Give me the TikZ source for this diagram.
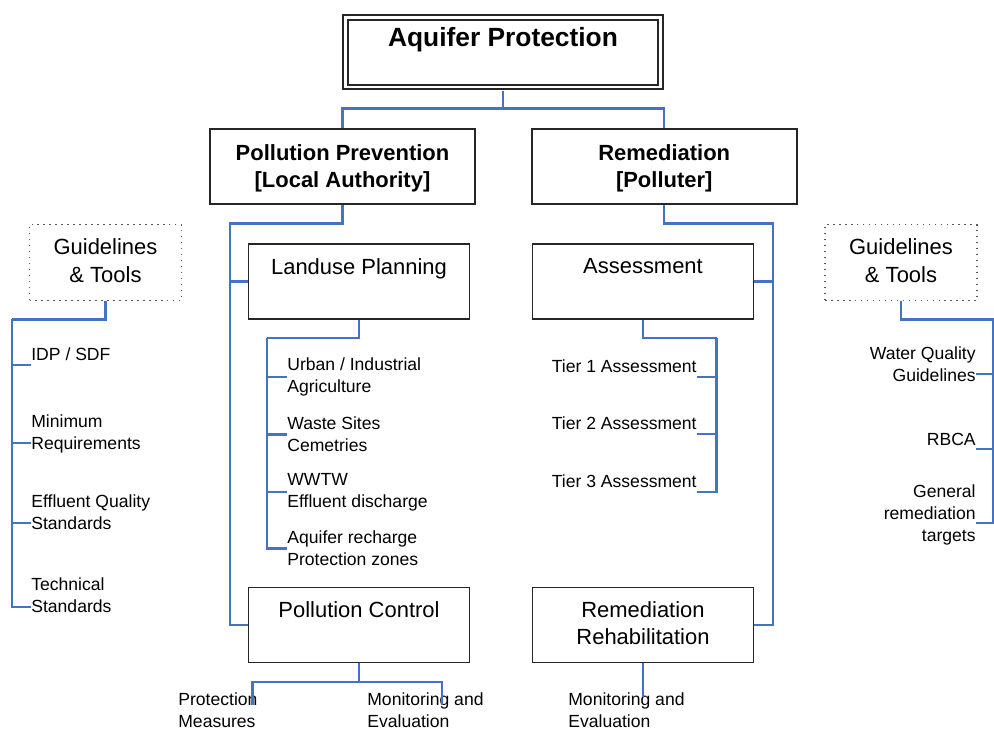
\documentclass[tikz,border=0pt]{standalone}
\usepackage{fontspec}
\setmainfont{Liberation Sans}
\usetikzlibrary{positioning}
\definecolor{linkblue}{HTML}{4472C4}
\tikzset{
  box/.style={draw=black!85, line width=1.1pt, minimum width=4.42cm,
    minimum height=1.5cm, inner sep=0pt},
  widebox/.style={box, minimum width=5.3cm},
  titlebox/.style={draw=black!85, double, double distance=1.5pt, line width=1pt,
    minimum width=6.3cm, minimum height=1.39cm, inner sep=0pt},
  toolbox/.style={draw=black!65, line width=0.9pt, dash pattern=on 0.9pt off 2.5pt,
    minimum width=3.04cm, minimum height=1.52cm, inner sep=0pt},
  titletext/.style={font=\fontsize{15}{18}\selectfont\bfseries, inner sep=0pt},
  headtext/.style={font=\fontsize{12.5}{15.7}\selectfont\bfseries, align=center, inner sep=0pt},
  boxtext/.style={font=\fontsize{12.5}{15.4}\selectfont, align=center, inner sep=0pt},
  itemtext/.style={font=\fontsize{10}{12.5}\selectfont, align=left, inner sep=0pt},
  tiertext/.style={itemtext, inner xsep=0pt, inner ysep=2.3pt},
  link/.style={draw=linkblue, line width=1.2pt}
}
\begin{document}
\begin{tikzpicture}[x=0.02cm, y=-0.02cm]
  \path[fill=white, use as bounding box] (0,0) rectangle (994,729);

  % boxes
  \node[titlebox] (top) at (503,52.3) {};
  \node[titletext, below=0.2cm of top.north] (top-t) {Aquifer Protection};
  \node[widebox] (pp) at (342.5,166.7) {};
  \node[headtext, below=0.31cm of pp.north] (pp-t) {Pollution Prevention\\{}[Local Authority]};
  \node[widebox] (rem) at (664.2,166.7) {};
  \node[headtext, below=0.31cm of rem.north] (rem-t) {Remediation\\{}[Polluter]};
  \node[box] (lp) at (359,281.5) {};
  \node[boxtext, below=0.3cm of lp.north] (lp-t) {Landuse Planning};
  \node[box] (as) at (643,281.5) {};
  \node[boxtext, below=0.3cm of as.north] (as-t) {Assessment};
  \node[box] (pc) at (359,625) {};
  \node[boxtext, below=0.3cm of pc.north] (pc-t) {Pollution Control};
  \node[box] (rr) at (643,625) {};
  \node[boxtext, below=0.3cm of rr.north] (rr-t) {Remediation\\Rehabilitation};
  \node[toolbox] (gl) at (105.5,262.5) {};
  \node[boxtext, below=0.3cm of gl.north] (gl-t) {Guidelines\\\& Tools};
  \node[toolbox] (gr) at (901,262.5) {};
  \node[boxtext, below=0.3cm of gr.north] (gr-t) {Guidelines\\\& Tools};

  % item labels
  \node[itemtext, anchor=north west] (idp) at (31,347.5) {IDP / SDF};
  \node[itemtext, anchor=north west] (minreq) at (31,414.5) {Minimum\\Requirements};
  \node[itemtext, anchor=north west] (effq) at (31,494) {Effluent Quality\\Standards};
  \node[itemtext, anchor=north west] (techs) at (31,577) {Technical\\Standards};

  \node[itemtext, anchor=west] (urban) at (287,377) {Urban / Industrial\\Agriculture};
  \node[itemtext, anchor=west] (waste) at (287,434.5) {Waste Sites\\Cemetries};
  \node[itemtext, anchor=west] (wwtw) at (287,492) {WWTW\\Effluent discharge};
  \node[itemtext, anchor=west] (recharge) at (287,548.5) {Aquifer recharge\\Protection zones};

  \node[tiertext, anchor=south east] (tier1) at (697,376.7) {Tier 1 Assessment};
  \node[tiertext, anchor=south east] (tier2) at (697,434.3) {Tier 2 Assessment};
  \node[tiertext, anchor=south east] (tier3) at (697,491.7) {Tier 3 Assessment};

  \node[itemtext, align=right, anchor=north east] (wqg) at (976,346.7) {Water Quality\\Guidelines};
  \node[itemtext, align=right, anchor=north east] (rbca) at (976,432.7) {RBCA};
  \node[itemtext, align=right, anchor=north east] (genrt) at (976,484.3) {General\\remediation\\targets};

  \node[itemtext, anchor=north west] (protm) at (178,692.7) {Protection\\Measures};
  \node[itemtext, anchor=north west] (monev) at (367,692.7) {Monitoring and\\Evaluation};
  \node[itemtext, anchor=north west] (monev2) at (568,692.7) {Monitoring and\\Evaluation};

  % connectors
  \coordinate (top-j) at (503,108.5);
  \draw[link, shorten <=2pt] (top.south) -- (top-j);
  \draw[link] (pp.north) |- (top-j) -| (rem.north);

  \coordinate (pp-j) at (230,223.5);
  \draw[link] (pp.south) |- (pp-j) |- (pc.west);
  \draw[link] (pp-j |- lp.west) -- (lp.west);
  \coordinate (rem-j) at (773,223.5);
  \draw[link] (rem.south) |- (rem-j) |- (rr.east);
  \draw[link] (rem-j |- as.east) -- (as.east);

  \coordinate (lp-j) at (267,338);
  \draw[link] (lp.south) |- (lp-j);
  \foreach \n in {urban,waste,wwtw,recharge}
    \draw[link] (\n.west) -| (lp-j);

  \coordinate (as-j) at (716.5,338);
  \draw[link] (as.south) |- (as-j);
  \foreach \n in {tier1,tier2,tier3}
    \draw[link] (\n.south east) -| (as-j);

  \coordinate (gl-j) at (12,319.5);
  \draw[link] (gl.south) |- (gl-j);
  \draw[link] ([yshift=-0.35cm]idp.north west) -| (gl-j);
  \draw[link] ([yshift=-0.57cm]minreq.north west) -| (gl-j);
  \draw[link] ([yshift=-0.58cm]effq.north west) -| (gl-j);
  \draw[link] ([yshift=-0.6cm]techs.north west) -| (gl-j);

  \coordinate (gr-j) at (993.5,319.5);
  \draw[link] (gr.south) |- (gr-j);
  \draw[link] ([yshift=-0.55cm]wqg.north east) -| (gr-j);
  \draw[link] ([yshift=-0.33cm]rbca.north east) -| (gr-j);
  \draw[link] ([yshift=-0.78cm]genrt.north east) -| (gr-j);

  \coordinate (pc-j) at (359,682);
  \coordinate (protm-end) at ([xshift=1.49cm, yshift=-0.25cm]protm.north west);
  \coordinate (monev-end) at ([xshift=1.5cm, yshift=-0.25cm]monev.north west);
  \draw[link] (pc.south) -- (pc-j);
  \draw[link] (protm-end) |- (pc-j) -| (monev-end);
  \draw[link] (rr.south) -- ++(0,34);
\end{tikzpicture}
\end{document}
